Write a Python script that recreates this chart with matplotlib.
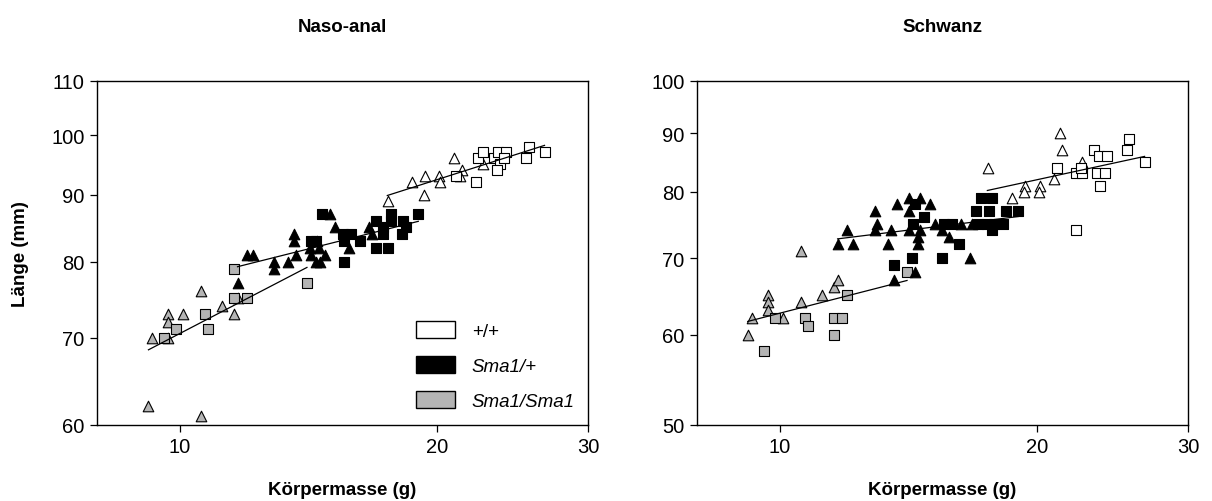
import numpy as np
import matplotlib
matplotlib.use('Agg')
from matplotlib import pyplot as plt
from matplotlib.patches import Patch

plt.rcParams['font.family'] = ['Liberation Sans', 'DejaVu Sans']

GRAY = '#b4b4b4'

# Naso-anal length (mm) vs body mass (g)
na_wt_tri_x = [17.51, 19.3, 18.7, 19.37, 20.07, 20.16, 20.9, 21.37, 21.27, 22.62]
na_wt_tri_y = [89, 90, 92, 93, 93, 92, 96, 94, 93, 95]
na_wt_sq_x = [21.05, 22.22, 22.3, 22.62, 23.3, 23.55, 24.05, 23.7, 23.5, 23.9, 25.36, 25.6, 26.7]
na_wt_sq_y = [93, 92, 96, 97, 96, 97, 97, 95, 94, 96, 96, 98, 97]
na_het_tri_x = [11.68, 11.97, 12.19, 12.9, 12.9, 13.39, 13.68, 13.58, 13.58, 14.21, 14.47,
                14.25, 14.56, 14.79, 14.43, 14.6, 14.97, 15.17, 15.76, 16.66, 16.78]
na_het_tri_y = [77, 81, 81, 80, 79, 80, 81, 84, 83, 82, 83, 81, 82, 81, 80, 80, 87, 85, 82, 85, 84]
na_het_sq_x = [14.25, 14.43, 14.67, 15.51, 15.86, 15.57, 16.22, 15.57, 16.97, 17.3, 17.3,
               17.66, 17.66, 16.97, 17.51, 18.23, 18.4, 18.18, 19.0]
na_het_sq_y = [83, 83, 87, 84, 84, 83, 83, 80, 86, 85, 84, 87, 86, 82, 82, 86, 85, 84, 87]
na_hom_tri_x = [9.27, 9.68, 9.68, 9.68, 10.09, 10.59, 11.19, 11.58, 11.68, 9.19, 10.59]
na_hom_tri_y = [70, 73, 72, 70, 73, 76, 74, 73, 75, 62, 61]
na_hom_sq_x = [9.58, 9.89, 10.69, 10.78, 11.58, 11.58, 11.97, 14.08]
na_hom_sq_y = [70, 71, 73, 71, 79, 75, 75, 77]
# fitted lines (start, end) per genotype
na_fit_x = {'wt': [17.48, 26.69], 'het': [11.68, 19.0], 'hom': [9.19, 14.08]}
na_fit_y = {'wt': [89.9, 98.2], 'het': [79.3, 85.9], 'hom': [68.5, 79.2]}

# Tail length (mm) vs body mass (g)
sw_wt_tri_x = [17.51, 18.68, 19.37, 19.28, 20.16, 20.09, 20.9, 21.27, 21.38, 22.58]
sw_wt_tri_y = [84, 79, 81, 80, 81, 80, 82, 90, 87, 85]
sw_wt_sq_x = [21.09, 22.22, 22.58, 22.47, 23.29, 23.6, 24.09, 23.45, 24.0, 23.7, 25.43, 25.61, 26.7, 22.18]
sw_wt_sq_y = [84, 83, 83, 84, 87, 86, 86, 83, 83, 81, 87, 89, 85, 74]
sw_het_tri_x = [11.68, 12.19, 11.97, 12.9, 13.0, 12.9, 13.39, 13.5, 13.7, 14.17, 14.6, 14.17,
                14.99, 14.17, 14.6, 14.5, 14.5, 15.2, 15.47, 15.78, 13.6, 14.4, 16.66, 16.3, 16.78]
sw_het_tri_y = [72, 72, 74, 77, 75, 74, 72, 74, 78, 79, 79, 77, 78, 74, 74, 73, 72, 75, 74, 73,
                67, 68, 70, 75, 75]
sw_het_sq_x = [14.4, 14.72, 14.3, 15.57, 15.9, 16.19, 14.27, 13.6, 15.47, 17.05, 17.44, 17.8,
               18.23, 17.7, 17.2, 17.7, 16.97, 17.55, 18.4, 19.0]
sw_het_sq_y = [78, 76, 75, 75, 75, 72, 70, 69, 70, 75, 75, 75, 75, 74, 79, 79, 77, 77, 77, 77]
sw_hom_tri_x = [9.17, 9.27, 9.68, 9.68, 9.68, 10.09, 10.59, 10.59, 11.19, 11.58, 11.68]
sw_hom_tri_y = [60, 62, 65, 64, 63, 62, 71, 64, 65, 66, 67]
sw_hom_sq_x = [9.58, 9.87, 10.69, 10.78, 11.58, 11.82, 11.58, 11.98, 14.08]
sw_hom_sq_y = [58, 62, 62, 61, 62, 62, 60, 65, 68]
sw_fit_x = {'wt': [17.48, 26.69], 'het': [11.68, 19.0], 'hom': [9.17, 14.08]}
sw_fit_y = {'wt': [80.2, 85.9], 'het': [72.75, 76.1], 'hom': [61.6, 66.9]}

colors = {'wt': 'white', 'het': 'black', 'hom': GRAY}


def panel(ax, groups, fit_x, fit_y, yticks, title):
    for key, tx, ty, sx, sy in groups:
        ax.scatter(tx, ty, marker='^', s=58, c=colors[key], edgecolors='black',
                   linewidths=0.8, zorder=3)
        ax.scatter(sx, sy, marker='s', s=42, c=colors[key], edgecolors='black',
                   linewidths=0.8, zorder=3)
    for key in ['hom', 'het', 'wt']:
        ax.plot(fit_x[key], fit_y[key], color='black', lw=0.9, zorder=4)
    ax.set_xscale('log')
    ax.set_yscale('log')
    ax.set_xlim(8, 30)
    ax.set_ylim(yticks[0], yticks[-1])
    ax.set_xticks([10, 20, 30])
    ax.set_xticklabels(['10', '20', '30'])
    ax.set_yticks(yticks)
    ax.set_yticklabels([str(v) for v in yticks])
    ax.minorticks_off()
    ax.tick_params(direction='out', length=5, width=0.9, labelsize=14.5, pad=4)
    for sp in ax.spines.values():
        sp.set_linewidth(1.0)
    ax.set_xlabel('Körpermasse (g)', fontsize=13.5, fontweight='bold', labelpad=18)
    ax.set_title(title, fontsize=13.5, fontweight='bold', pad=36)


fig = plt.figure(figsize=(12.12, 5.02), dpi=100)
ax1 = fig.add_axes([0.0800, 0.1514, 0.4051, 0.6853])
ax2 = fig.add_axes([0.5751, 0.1514, 0.4051, 0.6853])

panel(ax1,
      [('hom', na_hom_tri_x, na_hom_tri_y, na_hom_sq_x, na_hom_sq_y),
       ('het', na_het_tri_x, na_het_tri_y, na_het_sq_x, na_het_sq_y),
       ('wt', na_wt_tri_x, na_wt_tri_y, na_wt_sq_x, na_wt_sq_y)],
      na_fit_x, na_fit_y, [60, 70, 80, 90, 100, 110], 'Naso-anal')
panel(ax2,
      [('hom', sw_hom_tri_x, sw_hom_tri_y, sw_hom_sq_x, sw_hom_sq_y),
       ('het', sw_het_tri_x, sw_het_tri_y, sw_het_sq_x, sw_het_sq_y),
       ('wt', sw_wt_tri_x, sw_wt_tri_y, sw_wt_sq_x, sw_wt_sq_y)],
      sw_fit_x, sw_fit_y, [50, 60, 70, 80, 90, 100], 'Schwanz')

ax1.set_ylabel('Länge (mm)', fontsize=13.5, fontweight='bold', labelpad=16)

handles = [Patch(facecolor='white', edgecolor='black', lw=1),
           Patch(facecolor='black', edgecolor='black', lw=1),
           Patch(facecolor=GRAY, edgecolor='black', lw=1)]
leg = ax1.legend(handles, ['+/+', 'Sma1/+', 'Sma1/Sma1'], loc='lower right',
                 bbox_to_anchor=(1.0, 0.005), frameon=False, fontsize=13.5,
                 handlelength=2.1, handleheight=1.05, labelspacing=0.85,
                 handletextpad=0.9, borderaxespad=0.3)
for t in leg.get_texts()[1:]:
    t.set_style('italic')

fig.savefig('out.png', dpi=100)
